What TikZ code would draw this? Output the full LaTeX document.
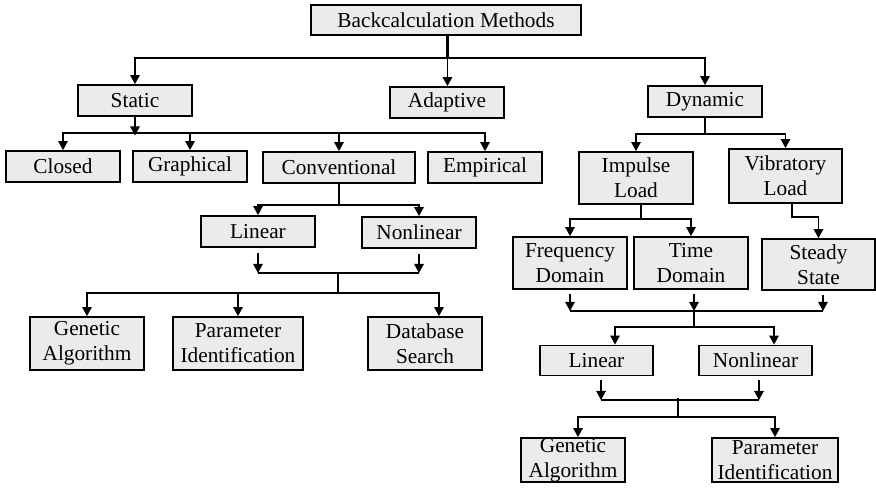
\documentclass[tikz,border=0pt]{standalone}
\usepackage{fontspec}
\setmainfont{Liberation Serif}
\usetikzlibrary{arrows.meta}
\definecolor{boxgray}{RGB}{235,235,235}
\begin{document}
\begin{tikzpicture}[x=1pt,y=-1pt,
  box/.style={draw, line width=1.8pt, fill=boxgray, inner sep=0pt, align=center,
    font=\fontsize{21.3}{25}\selectfont},
  link/.style={line width=1.2pt},
  trunk/.style={line width=2.6pt},
  arr/.style={link, -{Triangle[length=9pt,width=9.5pt]}}]
\useasboundingbox (0,0) rectangle (876,494);

% ---- boxes ----
\node[box, minimum width=270pt, minimum height=30pt] (top) at (446,20) {Backcalculation Methods};

\node[box, minimum width=114pt, minimum height=31pt] (static)   at (135,100.5) {Static};
\node[box, minimum width=114pt, minimum height=31pt] (adaptive) at (447,102.5) {Adaptive};
\node[box, minimum width=114pt, minimum height=31pt] (dynamic)  at (705,101.5) {Dynamic};

\node[box, minimum width=114pt, minimum height=31pt] (closed)    at (63,166.5)  {Closed};
\node[box, minimum width=114pt, minimum height=31pt] (graphical) at (190,166.5) {Graphical};
\node[box, minimum width=152pt, minimum height=31pt] (conv)      at (339,167.5) {Conventional};
\node[box, minimum width=114pt, minimum height=31pt] (empirical) at (485,167.5) {Empirical};

\node[box, minimum width=114pt, minimum height=52pt] (impulse) at (636,178)   {Impulse\\Load};
\node[box, minimum width=113pt, minimum height=54pt] (vib)     at (785.5,176) {Vibratory\\Load};

\node[box, minimum width=114pt, minimum height=31pt] (linA)    at (258,231.5) {Linear};
\node[box, minimum width=114pt, minimum height=31pt] (nonlinA) at (419,232.5) {Nonlinear};

\node[box, minimum width=114pt, minimum height=53pt] (genA) at (87,343.5)  {Genetic\\Algorithm};
\node[box, minimum width=130pt, minimum height=53pt] (parA) at (238,343.5) {Parameter\\Identification};
\node[box, minimum width=114pt, minimum height=53pt] (db)   at (425,343.5) {Database\\Search};

\node[box, minimum width=114pt, minimum height=52pt] (freq)   at (570,263)   {Frequency\\Domain};
\node[box, minimum width=114pt, minimum height=52pt] (time)   at (691,263)   {Time\\Domain};
\node[box, minimum width=113pt, minimum height=51pt] (steady) at (818.5,264.5) {Steady\\State};

\node[box, minimum width=113pt, minimum height=30pt] (linB)    at (596.5,360.5) {Linear};
\node[box, minimum width=113pt, minimum height=30pt] (nonlinB) at (755.5,360.5) {Nonlinear};

\node[box, minimum width=104pt, minimum height=44pt] (genB) at (573,460) {Genetic\\Algorithm};
\node[box, minimum width=126pt, minimum height=44pt] (parB) at (775,460) {Parameter\\Identification};

% ---- first level ----
\coordinate (b0) at (447.5,58);
\draw[trunk] (top.south -| b0) -- (b0);
\draw[arr] (b0) -| (static.north);
\draw[arr] (b0) -- (adaptive.north -| b0);
\draw[arr] (b0) -| (dynamic.north);

% ---- static branch ----
\coordinate (b1) at (135,133);
\draw[trunk] (static.south) -- ++(0,10);
\draw[arr] (static.south) -- ([yshift=-2.5pt]b1);
\draw[arr] (b1) -| (closed.north);
\draw[arr] (b1) -| (graphical.north);
\draw[arr] (b1) -| (conv.north);
\draw[arr] (b1) -| (empirical.north);

% ---- conventional ----
\coordinate (b3) at (339,205);
\draw[link] (conv.south) -- (b3);
\draw[arr] (b3) -| (linA.north);
\draw[arr] (b3) -| (nonlinA.north);

\coordinate (m1) at (338,273);
\draw[arr, shorten <=5pt] (linA.south) -- (linA.south |- m1);
\draw[arr, shorten <=5pt] (nonlinA.south) -- (nonlinA.south |- m1);
\draw[link] (linA.south |- m1) -- (nonlinA.south |- m1);
\coordinate (b4) at (338,293);
\draw[link] (m1) -- (b4);
\coordinate (dbin) at ([xshift=14pt]db.north);
\draw[arr] (b4) -| (genA.north);
\draw[arr] (b4) -| (parA.north);
\draw[arr] (b4) -| (dbin);

% ---- dynamic branch ----
\coordinate (b2) at (705,134);
\draw[link] (dynamic.south) -- (b2);
\draw[arr] (b2) -| (impulse.north);
\draw[arr] (b2) -| (vib.north);

\coordinate (b5) at (641,219);
\draw[link] (impulse.south -| b5) -- (b5);
\draw[arr] (b5) -| (freq.north);
\draw[arr] (b5) -| (time.north);

\coordinate (b6) at (792,217);
\draw[arr] (vib.south -| b6) -- (b6) -| (steady.north);

% ---- merge of the dynamic methods ----
\coordinate (m2) at (694,311);
\coordinate (s2) at ([xshift=4.5pt]steady.south);
\draw[arr, shorten <=4pt] (freq.south) -- (freq.south |- m2);
\draw[arr, shorten <=4pt] (time.south -| m2) -- (m2);
\draw[arr, shorten <=4pt] (s2) -- (s2 |- m2);
\draw[link] (freq.south |- m2) -- (s2 |- m2);
\coordinate (b7) at (694,327);
\draw[link] (m2) -- (b7);
\coordinate (linBin) at ([xshift=18.5pt]linB.north);
\coordinate (nonlinBin) at ([xshift=18.5pt]nonlinB.north);
\draw[arr] (b7) -| (linBin);
\draw[arr] (b7) -| (nonlinBin);

\coordinate (m3) at (678,400);
\coordinate (l3) at ([xshift=4.5pt]linB.south);
\coordinate (r3) at ([xshift=3.5pt]nonlinB.south);
\draw[arr, shorten <=4pt] (l3) -- (l3 |- m3);
\draw[arr, shorten <=4pt] (r3) -- (r3 |- m3);
\draw[link] (l3 |- m3) -- (r3 |- m3);
\coordinate (b8) at (678,417);
\draw[link] ([yshift=2pt]m3) -- (b8);
\coordinate (genBin) at ([xshift=5pt]genB.north);
\draw[arr] (b8) -| (genBin);
\draw[arr] (b8) -| (parB.north);
\end{tikzpicture}
\end{document}
